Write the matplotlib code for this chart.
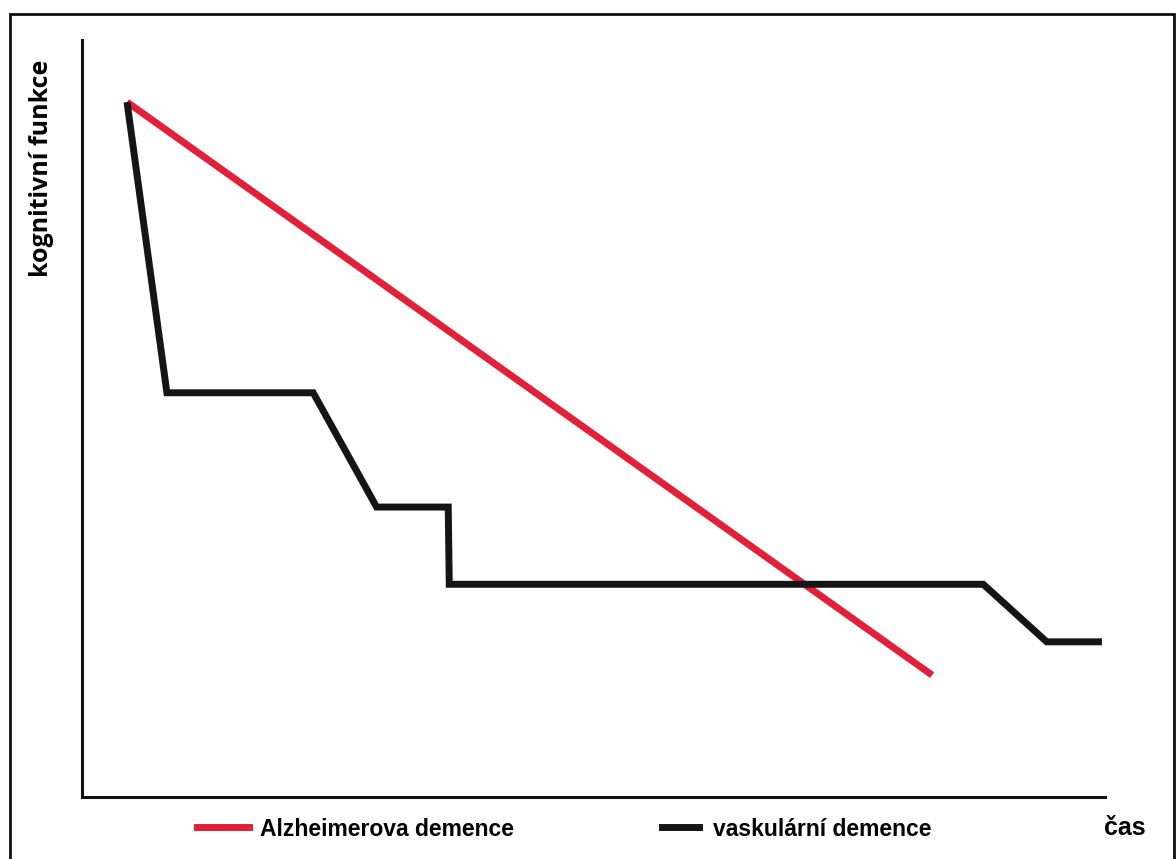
import matplotlib
matplotlib.use("Agg")
import matplotlib.pyplot as plt
from matplotlib.lines import Line2D
from matplotlib.patches import Rectangle

# Data (arbitrary units: time 0-100, cognitive function 0-100)
alz_x = [4.4, 83.1]
alz_y = [91.8, 16.1]
vask_x = [4.4, 8.3, 22.6, 28.8, 35.8, 35.9, 88.1, 94.3, 99.7]
vask_y = [91.8, 53.4, 53.4, 38.3, 38.3, 28.1, 28.1, 20.5, 20.5]
alz_label = "Alzheimerova demence"
vask_label = "vaskulární demence"
ylabel = "kognitivní funkce"
xlabel = "čas"

RED = "#e2203a"
W, H = 1176, 859
fig = plt.figure(figsize=(W / 100, H / 100), dpi=100)
fig.patch.set_facecolor("white")

ax = fig.add_axes([82 / W, (H - 797) / H, (1105 - 82) / W, (797 - 40) / H])
ax.plot(alz_x, alz_y, color=RED, lw=5, solid_capstyle="butt", zorder=2)
ax.plot(vask_x, vask_y, color="#151515", lw=5, solid_joinstyle="miter",
        solid_capstyle="butt", zorder=3)
ax.set_xlim(0, 100)
ax.set_ylim(0, 100)
ax.set_xticks([])
ax.set_yticks([])
for s in ("top", "right"):
    ax.spines[s].set_visible(False)
for s in ("left", "bottom"):
    ax.spines[s].set_linewidth(2.2)
    ax.spines[s].set_color("#111111")

# outer frame
fig.add_artist(Rectangle((10 / W, -0.01), (1174 - 10) / W, (H - 14) / H + 0.01,
                         transform=fig.transFigure, fill=False,
                         edgecolor="#111111", lw=2, clip_on=False))

# y label
fig.text(42 / W, 1 - 168 / H, ylabel, rotation=90, ha="center", va="center",
         fontsize=18, fontweight="bold", family=["Open Sans", "DejaVu Sans"])
# x label
fig.text(1125 / W, 1 - 828 / H, xlabel, ha="center", va="center",
         fontsize=18, fontweight="bold", family=["Liberation Sans", "DejaVu Sans"])

# legends
fp = dict(family=["Liberation Sans Narrow", "Liberation Sans", "DejaVu Sans"],
          weight="bold", size=16.5)
h1 = Line2D([], [], color=RED, lw=5)
h2 = Line2D([], [], color="#151515", lw=5)
leg1 = fig.legend([h1], [alz_label], loc="center left",
                  bbox_to_anchor=(197 / W, 1 - 829 / H), frameon=False,
                  prop=fp, handlelength=2.28, handletextpad=0.45,
                  borderpad=0, borderaxespad=0)
leg2 = fig.legend([h2], [vask_label], loc="center left",
                  bbox_to_anchor=(662 / W, 1 - 829 / H), frameon=False,
                  prop=fp, handlelength=1.62, handletextpad=0.62,
                  borderpad=0, borderaxespad=0)

fig.savefig("out.png", dpi=100, facecolor="white")
